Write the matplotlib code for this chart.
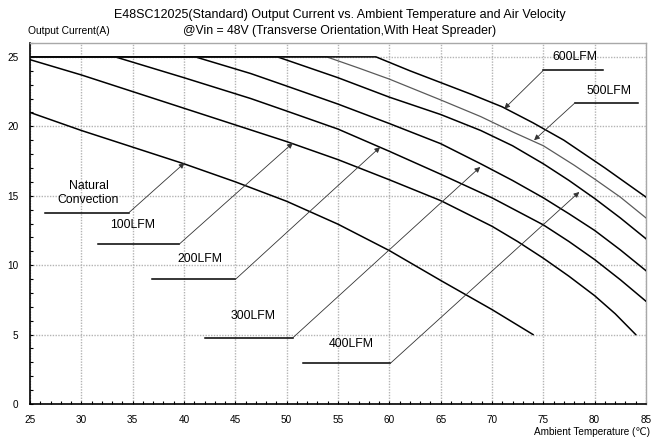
import matplotlib
matplotlib.use("Agg")
import matplotlib.pyplot as plt
from matplotlib.ticker import MultipleLocator

plt.rcParams['font.family'] = ['Liberation Sans', 'DejaVu Sans']

# ---- data ----
nat_t = [25, 30, 35, 40, 45, 50, 55, 60, 65, 70, 74]
nat_i = [21.0, 19.7, 18.5, 17.3, 16.0, 14.6, 12.95, 11.05, 8.9, 6.8, 5.0]

lfm100_t = [25, 30, 35, 40, 45, 50, 55, 60, 65, 70, 72.5, 75, 77.5, 80, 82, 84]
lfm100_i = [24.8, 23.7, 22.5, 21.3, 20.1, 18.9, 17.6, 16.15, 14.65, 12.8, 11.7, 10.5, 9.2, 7.8, 6.5, 5.0]

lfm200_t = [25, 33.3, 40, 46.5, 50, 55, 60, 65, 70, 75, 77.5, 80, 82.5, 85]
lfm200_i = [25, 25, 23.5, 22.0, 21.1, 19.8, 18.2, 16.55, 14.85, 12.9, 11.7, 10.4, 8.95, 7.4]

lfm300_t = [25, 41.1, 46.5, 50, 55, 60, 65, 68.9, 72, 75, 77.5, 80, 82.5, 85]
lfm300_i = [25, 25, 23.8, 22.9, 21.6, 20.2, 18.75, 17.3, 16.1, 14.85, 13.7, 12.5, 11.1, 9.6]

lfm400_t = [25, 49.1, 55, 60, 65, 68.9, 72, 75, 77.5, 80, 82.5, 85]
lfm400_i = [25, 25, 23.5, 22.1, 20.85, 19.7, 18.6, 17.3, 16.1, 14.8, 13.4, 11.9]

lfm500_t = [25, 53.9, 57, 60, 65, 68.9, 72, 75, 78, 80, 82.5, 85]
lfm500_i = [25, 25, 24.2, 23.4, 21.9, 20.7, 19.6, 18.6, 17.2, 16.2, 14.9, 13.4]

lfm600_t = [25, 58.7, 62, 65, 68, 71, 74, 77, 79, 81, 83, 85]
lfm600_i = [25, 25, 24.0, 23.15, 22.3, 21.4, 20.25, 19.0, 18.0, 17.0, 15.95, 14.9]

series_labels = ["Natural\nConvection", "100LFM", "200LFM", "300LFM", "400LFM", "500LFM", "600LFM"]

x_ticks = [25, 30, 35, 40, 45, 50, 55, 60, 65, 70, 75, 80, 85]
y_ticks = [0, 5, 10, 15, 20, 25]

title_1 = "E48SC12025(Standard) Output Current vs. Ambient Temperature and Air Velocity"
title_2 = "@Vin = 48V (Transverse Orientation,With Heat Spreader)"
y_title = "Output Current(A)"
x_title = "Ambient Temperature (\u2103)"

# ---- layout: label text position, leader (x0, x1, y), arrow (start x, tip x, tip y) ----
label_layout = [
    ((30.7, 15.2), (26.46, 34.6, 13.76), (34.6, 40.05, 17.36)),
    ((35.0, 12.88), (31.6, 39.5, 11.49), (39.5, 50.6, 18.8)),
    ((41.55, 10.44), (36.9, 45.0, 8.97), (45.0, 59.1, 18.5)),
    ((46.69, 6.34), (42.0, 50.6, 4.77), (50.6, 68.85, 17.07)),
    ((56.27, 4.32), (51.6, 60.1, 2.93), (60.1, 78.5, 15.27)),
    ((81.42, 22.56), (78.1, 84.2, 21.7), (78.1, 74.1, 19.0)),
    ((78.12, 24.96), (75.0, 80.8, 24.03), (75.0, 71.2, 21.27)),
]

W, H = 652, 437
fig = plt.figure(figsize=(W / 100, H / 100), dpi=100)
ax = fig.add_axes([30 / W, 1 - 404 / H, 616 / W, 361 / H])
ax.set_xlim(25, 85)
ax.set_ylim(0, 26)

curves = [(nat_t, nat_i), (lfm100_t, lfm100_i), (lfm200_t, lfm200_i),
          (lfm300_t, lfm300_i), (lfm400_t, lfm400_i), (lfm500_t, lfm500_i),
          (lfm600_t, lfm600_i)]
for k, (t, i) in enumerate(curves):
    if k == 5:
        ax.plot(t, i, color='#5a5a5a', lw=0.9, zorder=3)
    else:
        ax.plot(t, i, color='black', lw=1.1, zorder=3)

for lab, (tp, ld, ar) in zip(series_labels, label_layout):
    ax.text(tp[0], tp[1], lab, ha='center', va='center', fontsize=8.8, zorder=5)
    ax.plot([ld[0], ld[1]], [ld[2], ld[2]], color='black', lw=1.1, zorder=4)
    ax.annotate('', xy=(ar[1], ar[2]), xytext=(ar[0], ld[2]),
                arrowprops=dict(arrowstyle='-|>', color='#333333', lw=0.6,
                                mutation_scale=8, shrinkA=0, shrinkB=0),
                zorder=4)

ax.set_xticks(x_ticks)
ax.set_yticks(y_ticks)
ax.xaxis.set_minor_locator(MultipleLocator(1))
ax.yaxis.set_minor_locator(MultipleLocator(1))
ax.tick_params(which='both', direction='in', length=2.5, width=0.8,
               top=False, right=False, labelsize=7.2)
ax.tick_params(axis='x', which='major', pad=8)
ax.tick_params(axis='y', which='major', pad=8.5)

ax.grid(which='major', color='#b4b4b4', linestyle=(0, (1, 1)), lw=1.0, zorder=1)

for s in ['left', 'bottom']:
    ax.spines[s].set_color('black')
    ax.spines[s].set_linewidth(1.2)
for s in ['top', 'right']:
    ax.spines[s].set_color('#a8a8a8')
    ax.spines[s].set_linewidth(1.0)

fig.text(340 / W, 1 - 15 / H, title_1, ha='center', va='center', fontsize=9.0)
fig.text(340 / W, 1 - 31 / H, title_2, ha='center', va='center', fontsize=8.8)
fig.text(28 / W, 1 - 31 / H, y_title, ha='left', va='center', fontsize=7.4)
fig.text(650 / W, 1 - 432 / H, x_title, ha='right', va='center', fontsize=7.2)

fig.savefig('out.png', dpi=100)
